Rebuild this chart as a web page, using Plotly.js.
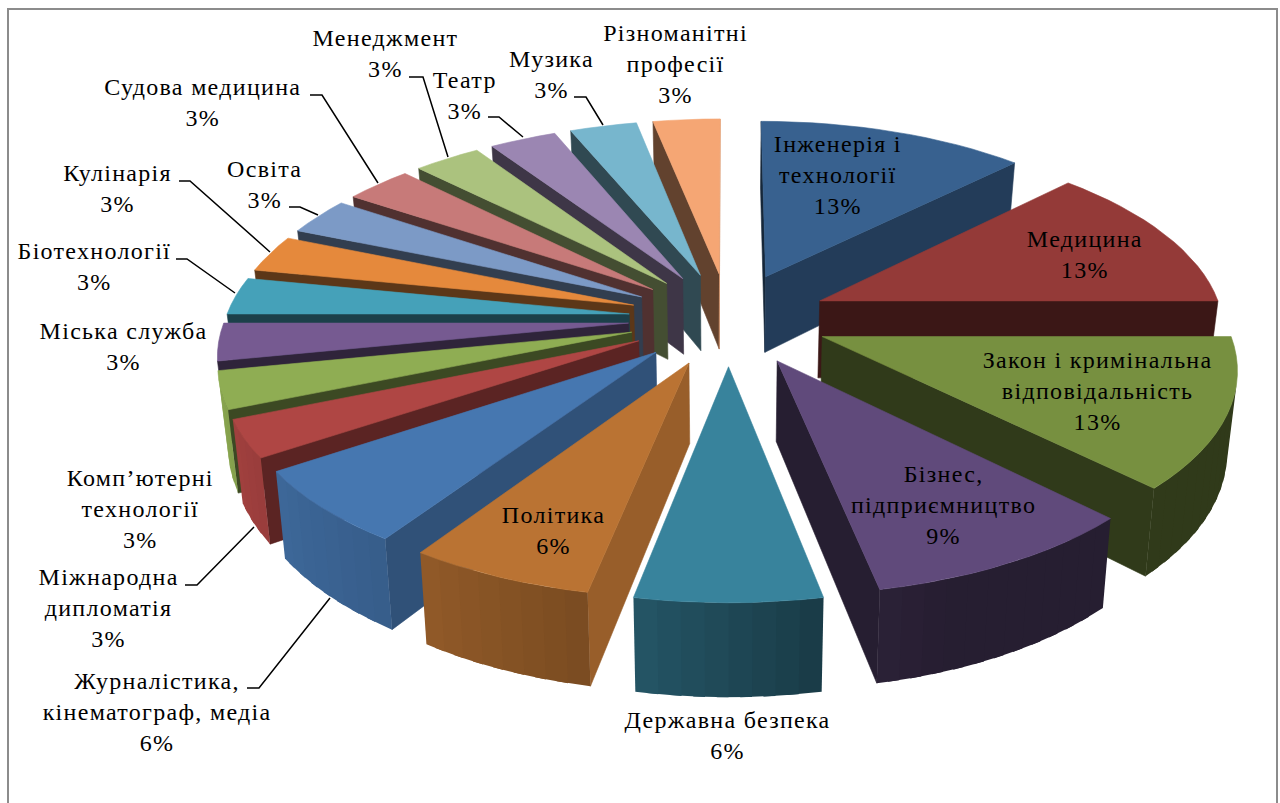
<!DOCTYPE html>
<html>
<head>
<meta charset="utf-8">
<script src="https://cdn.plot.ly/plotly-3.0.1.min.js"></script>
<style>html,body{margin:0;padding:0;background:#fff}#chart{width:1280px;height:803px}
.annotation-text-g text{letter-spacing:1.3px}</style>
</head>
<body>
<div id="chart"></div>
<script>
// ---- data ----
const categories = ["Інженерія і<br>технології","Медицина","Закон і кримінальна<br>відповідальність","Бізнес,<br>підприємництво","Державна безпека","Політика","Журналістика,<br>кінематограф, медіа","Міжнародна<br>дипломатія","Комп’ютерні<br>технології","Міська служба","Біотехнології","Кулінарія","Освіта","Судова медицина","Менеджмент","Театр","Музика","Різноманітні<br>професії"];
const counts = [4,4,4,3,2,2,2,1,1,1,1,1,1,1,1,1,1,1];

// ---- styles and placement ----
const topColors = ["#38618F","#943A38","#779040","#604A7B","#38839C","#BA7333","#4677B0","#AF4644","#8FAD53","#765A91","#45A1B9","#E5893C","#7C9AC6","#C77A79","#ABC27E","#9B86B2","#77B6CD","#F5A674"];
const labelX = [838,1085,1097,943,727,553,157,108,140,123,94,117,265,203,385,465,551,675];
const labelY = [175,254,391,505,735,530,712,608,509,346,266,188,184,102,53,95,74,64];
const leaders = [
  [[310,322,378],[95,95,183]],
  [[179,190,270],[181,181,252]],
  [[289,300,318],[207,207,215]],
  [[176,187,235],[259,259,293]],
  [[409,423,448],[77,77,157]],
  [[488,499,523],[117,117,137]],
  [[574,586,603],[97,97,125]],
  [[185,197,254],[585,585,527]],
  [[247,259,330],[688,688,598]]
];
const view = {cx:728.5, cy:318.5, rx:403.5, ry:188, persp:0.14, explode:0.248, depth:78, shrink:0.98};
const radialShade = [[90,.84],[101,.82],[124,.68],[135,.62],[146,.52],[157,.42],[170,.40],[300,.40]];
const outerShade = [[90,.40],[160,.40],[169,.45],[191,.65],[213,.78],[236,.87],[258,.97],[300,1]];

// ---- helpers ----
const rad = d => d*Math.PI/180;
function interp(tbl,v){
  if(v<=tbl[0][0]) return tbl[0][1];
  for(let i=1;i<tbl.length;i++){
    if(v<=tbl[i][0]){const [a,b]=tbl[i-1],[c,d]=tbl[i];return b+(d-b)*(v-a)/(c-a);}
  }
  return tbl[tbl.length-1][1];
}
function shade(hex,f){
  const n=parseInt(hex.slice(1),16);
  return "rgb("+[n>>16,(n>>8)&255,n&255].map(c=>Math.round(c*f)).join(",")+")";
}
function project(X,Y,low){
  const s=1/(1-view.persp*Y);
  let x=X*s*view.rx, y=Y*s*view.ry;
  if(low){x*=view.shrink; y+=view.depth*s;}
  return [view.cx+x, view.cy+y];
}
function poly(pts,color,w){
  const xs=pts.map(p=>p[0]), ys=pts.map(p=>p[1]);
  xs.push(xs[0]); ys.push(ys[0]);
  return {type:"scatter",mode:"lines",x:xs,y:ys,fill:"toself",fillcolor:color,
    line:{color:color,width:w===undefined?0.6:w},hoverinfo:"skip",showlegend:false};
}
function area(p){
  let a=0;
  for(let i=0;i<p.length;i++){const q=p[(i+1)%p.length];a+=p[i][0]*q[1]-q[0]*p[i][1];}
  return a;
}

// ---- build slices from the values ----
const total = counts.reduce((a,b)=>a+b,0);
let running = 0;
const slices = counts.map((v,i)=>{
  const a0=running/total*360; running+=v; const a1=running/total*360;
  return {i,a0,a1,mid:(a0+a1)/2};
});
const order = slices.slice().sort((p,q)=>Math.cos(rad(q.mid))-Math.cos(rad(p.mid)));
const traces = [];
order.forEach(sl=>{
  const col=topColors[sl.i];
  const ox=view.explode*Math.sin(rad(sl.mid)), oy=-view.explode*Math.cos(rad(sl.mid));
  const rim=a=>[ox+Math.sin(rad(a)), oy-Math.cos(rad(a))];
  const n=Math.max(4,Math.round((sl.a1-sl.a0)/2.8));
  const angs=[]; for(let k=0;k<=n;k++) angs.push(sl.a0+(sl.a1-sl.a0)*k/n);
  const wall=(A,B,f,w)=>{
    const q=[project(A[0],A[1]),project(B[0],B[1]),project(B[0],B[1],true),project(A[0],A[1],true)];
    if(area(q)<0) traces.push(poly(q,shade(col,f),w));
  };
  const apex=[ox,oy];
  const norm=a=>((a%360)+360)%360;
  wall(apex,rim(sl.a0),interp(radialShade,norm(sl.a0-90)));
  wall(rim(sl.a1),apex,interp(radialShade,norm(sl.a1+90)));
  // facets overlap their neighbour so that no seam shows between them
  for(let k=0;k<n;k++){
    const end=k<n-1?angs[k+1]+(angs[k+1]-angs[k])*0.5:angs[k+1];
    wall(rim(angs[k]),rim(end),interp(outerShade,(angs[k]+angs[k+1])/2),0);
  }
  const top=[project(apex[0],apex[1])].concat(angs.map(a=>{const r=rim(a);return project(r[0],r[1]);}));
  traces.push(poly(top,col));
});
leaders.forEach(l=>traces.push({type:"scatter",mode:"lines",x:l[0],y:l[1],
  line:{color:"#000",width:1.5},hoverinfo:"skip",showlegend:false}));

const annotations = categories.map((c,i)=>({
  x:labelX[i],y:labelY[i],xref:"x",yref:"y",xanchor:"center",yanchor:"middle",align:"center",
  showarrow:false,text:c+"<br>"+Math.round(counts[i]/total*100)+"%",
  font:{family:"'Liberation Serif',serif",size:24,color:"#000"}
}));

Plotly.newPlot("chart",traces,{
  width:1280,height:803,margin:{l:0,r:0,t:0,b:0,pad:0},
  paper_bgcolor:"#fff",plot_bgcolor:"#fff",showlegend:false,
  xaxis:{range:[0,1280],visible:false,fixedrange:true},
  yaxis:{range:[803,0],visible:false,fixedrange:true},
  annotations,
  shapes:[{type:"rect",xref:"x",yref:"y",x0:8,y0:9,x1:1277,y1:830,line:{color:"#8C8C8C",width:2},fillcolor:"rgba(0,0,0,0)"}]
},{displayModeBar:false,staticPlot:true});
</script>
</body>
</html>
